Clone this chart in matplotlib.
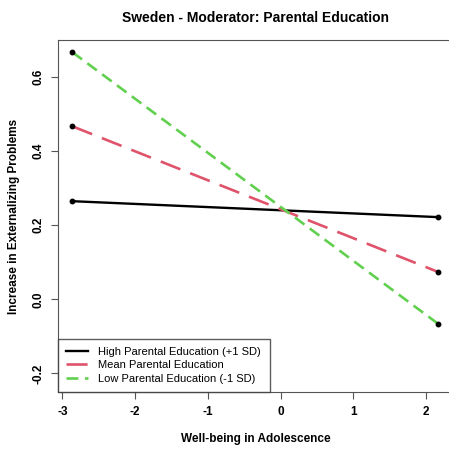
import matplotlib
matplotlib.use("Agg")
import matplotlib.pyplot as plt

plt.rcParams['font.family'] = ['Liberation Sans', 'DejaVu Sans']

# well-being values at the two ends of each line
x_vals = [-2.86, 2.165]
high_edu = [0.265, 0.222]
mean_edu = [0.467, 0.074]
low_edu = [0.667, -0.066]
labels = ["High Parental Education (+1 SD)", "Mean Parental Education",
          "Low Parental Education (-1 SD)"]
x_ticks = [-3, -2, -1, 0, 1, 2]
y_ticks = [-0.2, 0.0, 0.2, 0.4, 0.6]

fig = plt.figure(figsize=(4.49, 4.55), dpi=100)
ax = fig.add_axes([0.129, 0.1385, 0.88, 0.7735])

ax.plot(x_vals, high_edu, color='black', lw=1.7, label=labels[0])
ax.plot(x_vals, mean_edu, color='#DF536B', lw=1.9, dashes=(8, 4), label=labels[1])
ax.plot(x_vals, low_edu, color='#61D04F', lw=1.9, dashes=(4.5, 2.5), label=labels[2])
for ys in (high_edu, mean_edu, low_edu):
    ax.plot(x_vals, ys, 'o', color='black', ms=3.2, ls='none')

ax.set_xlim(-3.06, 2.37)
ax.set_ylim(-0.25, 0.70)
ax.set_xticks(x_ticks)
ax.set_xticklabels([str(t) for t in x_ticks], fontweight='bold', fontsize=8.5)
ax.set_yticks(y_ticks)
ax.set_yticklabels(["%.1f" % t for t in y_ticks], fontweight='bold', fontsize=8.5,
                   rotation=90, va='center')
ax.tick_params(direction='out', length=5, color='#555555', pad=5)
for s in ax.spines.values():
    s.set_color('#555555')

ax.set_xlabel("Well-being in Adolescence", fontweight='bold', fontsize=8.5, labelpad=11)
ax.set_ylabel("Increase in Externalizing Problems", fontweight='bold', fontsize=8.5,
              labelpad=9)
fig.suptitle("Sweden - Moderator: Parental Education", fontweight='bold', fontsize=10,
             x=0.568, y=0.975)

leg = ax.legend(loc='lower left', fontsize=8.0, frameon=True, fancybox=False,
                borderaxespad=0, handlelength=2.0, handletextpad=0.9,
                labelspacing=0.3, borderpad=0.75)
leg.get_frame().set_edgecolor('#333333')
leg.get_frame().set_linewidth(1.0)

fig.savefig("out.png", dpi=100)
